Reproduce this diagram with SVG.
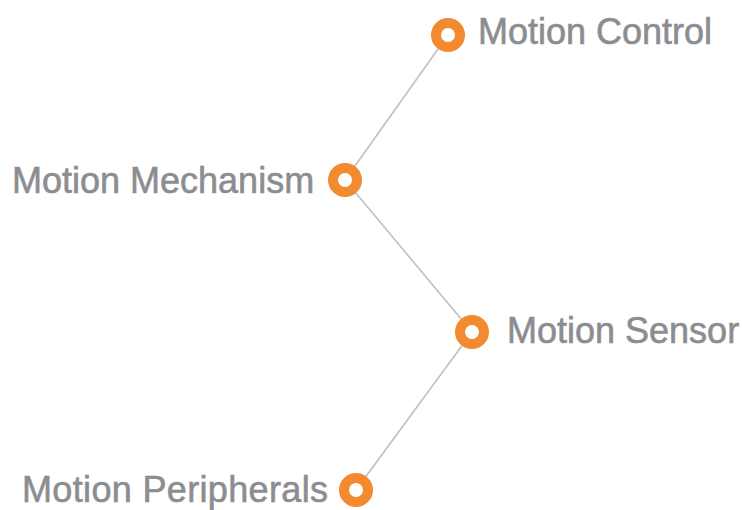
<svg xmlns="http://www.w3.org/2000/svg" width="742" height="510" viewBox="0 0 742 510">
<style>
.lbl{font-family:"Liberation Sans",Arial,sans-serif;font-size:36px;fill:#8c8d91;stroke:#8c8d91;stroke-width:0.6}
.dot{fill:#fff;stroke:#f28a30;stroke-width:10}
.edge{stroke:#bdbdbd;stroke-width:1.5;fill:none}
</style>
<rect width="742" height="510" fill="#fff"/>
<g id="connectors">
<line class="edge" x1="448" y1="35" x2="345" y2="180"/>
<line class="edge" x1="345" y1="180" x2="472" y2="332"/>
<line class="edge" x1="472" y1="332" x2="356" y2="490"/>
</g>
<g id="motion-control"><circle class="dot" cx="448" cy="35" r="12"/><text class="lbl" x="478" y="44">Motion Control</text></g>
<g id="motion-mechanism"><circle class="dot" cx="345" cy="180" r="12"/><text class="lbl" x="12" y="193">Motion Mechanism</text></g>
<g id="motion-sensor"><circle class="dot" cx="472" cy="332" r="12"/><text class="lbl" x="507" y="343">Motion Sensor</text></g>
<g id="motion-peripherals"><circle class="dot" cx="356" cy="490" r="12"/><text class="lbl" x="22" y="502" textLength="306" lengthAdjust="spacing">Motion Peripherals</text></g>
</svg>
